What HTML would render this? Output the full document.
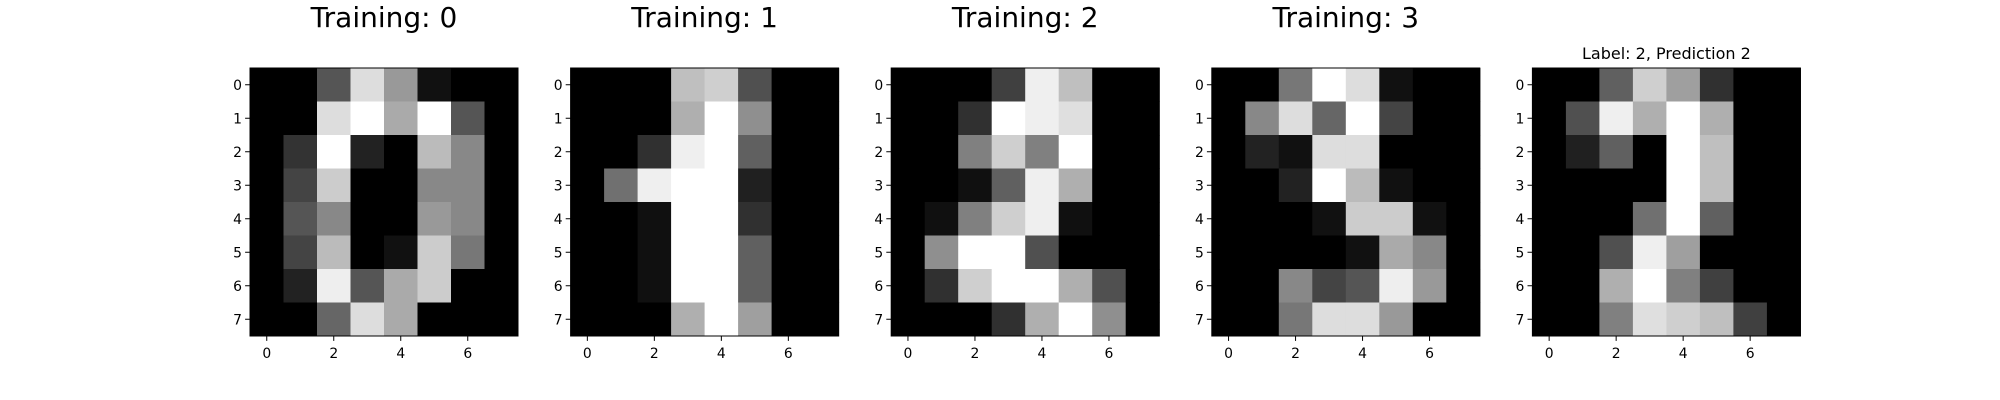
<!DOCTYPE html>
<html><head><meta charset="utf-8"><style>
html,body{margin:0;padding:0;background:#fff;}
svg{display:block;font-family:"DejaVu Sans","Liberation Sans",sans-serif;}
</style></head><body>
<svg id="fig" width="2000" height="400"></svg>
<script>
const titles = ["Training: 0","Training: 1","Training: 2","Training: 3","Label: 2, Prediction 2"];
const tickLabels = ["0","1","2","3","4","5","6","7"];
const img0 = [[0,0,5,13,9,1,0,0],[0,0,13,15,10,15,5,0],[0,3,15,2,0,11,8,0],[0,4,12,0,0,8,8,0],[0,5,8,0,0,9,8,0],[0,4,11,0,1,12,7,0],[0,2,14,5,10,12,0,0],[0,0,6,13,10,0,0,0]];
const img1 = [[0,0,0,12,13,5,0,0],[0,0,0,11,16,9,0,0],[0,0,3,15,16,6,0,0],[0,7,15,16,16,2,0,0],[0,0,1,16,16,3,0,0],[0,0,1,16,16,6,0,0],[0,0,1,16,16,6,0,0],[0,0,0,11,16,10,0,0]];
const img2 = [[0,0,0,4,15,12,0,0],[0,0,3,16,15,14,0,0],[0,0,8,13,8,16,0,0],[0,0,1,6,15,11,0,0],[0,1,8,13,15,1,0,0],[0,9,16,16,5,0,0,0],[0,3,13,16,16,11,5,0],[0,0,0,3,11,16,9,0]];
const img3 = [[0,0,7,15,13,1,0,0],[0,8,13,6,15,4,0,0],[0,2,1,13,13,0,0,0],[0,0,2,15,11,1,0,0],[0,0,0,1,12,12,1,0],[0,0,0,0,1,10,8,0],[0,0,8,4,5,14,9,0],[0,0,7,13,13,9,0,0]];
const img4 = [[0,0,6,13,10,3,0,0],[0,5,15,11,16,11,0,0],[0,2,6,0,16,12,0,0],[0,0,0,0,16,12,0,0],[0,0,0,7,16,6,0,0],[0,0,5,15,10,0,0,0],[0,0,11,16,8,4,0,0],[0,0,8,14,13,12,4,0]];
const images = [img0,img1,img2,img3,img4];

const NS="http://www.w3.org/2000/svg";
const fig=document.getElementById('fig');
function mk(tag,attrs,parent){const e=document.createElementNS(NS,tag);for(const k in attrs)e.setAttribute(k,attrs[k]);parent.appendChild(e);return e;}
const axSize=268, axTop=68, panelStep=320.6, left0=250;
images.forEach((im,p)=>{
  const g=mk('g',{},fig);
  
  
  const x0=left0+panelStep*p;
  let vmax=0,vmin=99;im.forEach(r=>r.forEach(v=>{vmax=Math.max(vmax,v);vmin=Math.min(vmin,v);}));
  const cell=axSize/8;
  const sx=i=>x0+(i+0.5)*cell, sy=i=>axTop+(i+0.5)*cell;
  im.forEach((row,r)=>row.forEach((v,c)=>{
    const g2=Math.round((v-vmin)/(vmax-vmin)*255);
    const rc=mk('rect',{x:sx(c)-cell/2,y:sy(r)-cell/2,width:cell+0.5,height:cell+0.5,fill:`rgb(${g2},${g2},${g2})`},g);
    
    
  }));
  const fr=mk('rect',{x:x0,y:axTop,width:axSize,height:axSize,fill:'none',stroke:'#000','stroke-width':1},g);
  
  
  for(let i=0;i<8;i++){
    mk('line',{x1:x0,x2:x0-4.9,y1:sy(i),y2:sy(i),stroke:'#000','stroke-width':1},g);
    const t=mk('text',{x:x0-8,y:sy(i)+5,'text-anchor':'end','font-size':13.9,fill:'#000'},g);
    t.textContent=tickLabels[i];
    
    
  }
  for(let i=0;i<8;i+=2){
    mk('line',{x1:sx(i),x2:sx(i),y1:axTop+axSize,y2:axTop+axSize+4.9,stroke:'#000','stroke-width':1},g);
    const t=mk('text',{x:sx(i),y:axTop+axSize+22,'text-anchor':'middle','font-size':13.9,fill:'#000'},g);
    t.textContent=tickLabels[i];
    
    
  }
  const big=p<4;
  const tt=mk('text',{x:x0+axSize/2,y:big?27:59,'text-anchor':'middle','font-size':big?28:16,fill:'#000'},g);
  tt.textContent=titles[p];
  
  
});
</script>
</body></html>
